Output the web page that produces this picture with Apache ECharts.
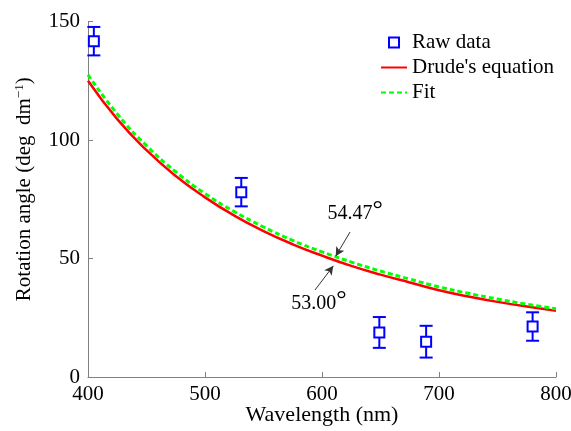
<!DOCTYPE html>
<html><head><meta charset="utf-8">
<script src="https://cdn.jsdelivr.net/npm/echarts@6/dist/echarts.min.js"></script>
<style>html,body{margin:0;padding:0;background:#fff}#c{width:571px;height:431px}</style>
</head><body><div id="c"></div>
<script>
// Data
const wavelengths = [400,425,450,475,500,525,550,575,600,625,650,675,700,725,750,775,800];
const drude = [125.0,108.8,95.7,84.8,75.8,68.1,61.6,56.0,51.2,46.9,43.2,39.9,36.6,34.0,31.7,29.7,28.0];
const fit   = [127.5,111.0,97.6,86.6,77.4,69.8,63.3,57.6,52.8,48.5,44.7,41.3,38.0,35.3,32.9,30.7,28.8];
const rawX   = [405,531,649,689,780];
const rawY   = [141.7,78.0,18.8,14.9,21.3];
const rawErr = [6.0,6.0,6.5,6.7,6.0];
const xTicks = [400,500,600,700,800];
const yTicks = [0,50,100,150];
const annot = [
  {value:'54.47', from:[624,61.2], to:[611.7,51.0]},
  {value:'53.00', from:[594,36.7], to:[609.7,46.9]}
];

const FONT = 'Liberation Serif';
const chart = echarts.init(document.getElementById('c'), null, {renderer:'canvas'});

const lineData = (ys) => wavelengths.map((w,i)=>[w, ys[i]]);
const rawData = rawX.map((x,i)=>[x, rawY[i]]);
const errData = rawX.map((x,i)=>[x, rawY[i]-rawErr[i], rawY[i]+rawErr[i]]);

const option = {
  animation:false,
  backgroundColor:'#fff',
  textStyle:{fontFamily:FONT, color:'#000'},
  grid:{left:88, right:15, top:21.5, bottom:54, containLabel:false, outerBoundsMode:'none'},
  legend:{
    orient:'vertical', left:375, top:27, itemWidth:26, itemHeight:10, itemGap:4,
    textStyle:{fontFamily:FONT, fontSize:21, color:'#000'},
    data:[
      {name:'Raw data', icon:'path://M0,0h10v10h-10z'},
      {name:"Drude's equation", itemStyle:{opacity:0}},
      {name:'Fit', itemStyle:{opacity:0}}
    ]
  },
  xAxis:{
    type:'value', min:400, max:800, interval:100,
    name:'Wavelength (nm)', nameLocation:'middle', nameGap:27, nameMoveOverlap:false,
    nameTextStyle:{fontFamily:FONT, fontSize:22, color:'#000', verticalAlign:'top'},
    axisLine:{show:true, lineStyle:{color:'#808080', width:1}},
    axisTick:{show:true, inside:true, length:5, lineStyle:{color:'#808080'}},
    axisLabel:{fontFamily:FONT, fontSize:21, color:'#000', margin:7, customValues:xTicks},
    splitLine:{show:false}
  },
  yAxis:{
    type:'value', min:0, max:150, interval:50,
    name:'{a|Rotation angle (deg  dm}{s|−1}{a|)}', nameLocation:'middle', nameGap:52, nameRotate:90, nameMoveOverlap:false,
    nameTextStyle:{fontFamily:FONT, fontSize:21, color:'#000', padding:[0,0,0,20],
      rich:{a:{fontFamily:FONT, fontSize:21, color:'#000'}, s:{fontFamily:FONT, fontSize:13, color:'#000', padding:[0,0,10,0]}}},
    axisLine:{show:true, lineStyle:{color:'#808080', width:1}},
    axisTick:{show:true, inside:true, length:5, lineStyle:{color:'#808080'}},
    axisLabel:{fontFamily:FONT, fontSize:21, color:'#000', margin:8, customValues:yTicks},
    splitLine:{show:false}
  },
  series:[
    {
      name:"Drude's equation", type:'line', data:lineData(drude), smooth:true, showSymbol:false, symbol:'circle',
      lineStyle:{color:'#ff0000', width:2.5}, itemStyle:{color:'#ff0000'}, z:3,
      markLine:{
        silent:true, symbol:['none','arrow'], symbolSize:[7,9],
        lineStyle:{color:'#333', width:1, type:'solid'}, label:{show:false},
        data: annot.map(a=>[{coord:a.from},{coord:a.to}])
      }
    },
    {
      name:'Fit', type:'line', data:lineData(fit), smooth:true, showSymbol:false, symbol:'circle',
      lineStyle:{color:'#00ff00', width:3, type:[5,3]}, itemStyle:{color:'#00ff00'}, z:4
    },
    {
      name:'Raw data', type:'scatter', data:rawData, symbol:'rect', symbolSize:10,
      itemStyle:{color:'#ffffff', borderColor:'#0000ff', borderWidth:2, opacity:1}, z:6
    },
    {
      name:'Raw data', type:'custom', data:errData, z:5,
      renderItem:function(params, api){
        const x = api.value(0), lo = api.value(1), hi = api.value(2);
        const pt = api.coord([x, hi]), pb = api.coord([x, lo]);
        const w = 6.5;
        const st = {stroke:'#0000ff', lineWidth:2};
        return {type:'group', children:[
          {type:'line', shape:{x1:pt[0], y1:pt[1], x2:pb[0], y2:pb[1]}, style:st},
          {type:'line', shape:{x1:pt[0]-w, y1:pt[1], x2:pt[0]+w, y2:pt[1]}, style:st},
          {type:'line', shape:{x1:pb[0]-w, y1:pb[1], x2:pb[0]+w, y2:pb[1]}, style:st}
        ]};
      }
    }
  ]
};
chart.setOption(option);

// annotation labels placed relative to arrow starts via the axis scales
const p1 = chart.convertToPixel({gridIndex:0}, annot[0].from);
const p2 = chart.convertToPixel({gridIndex:0}, annot[1].from);
const rich = {n:{fontFamily:FONT, fontSize:20, fill:'#000'}, d:{fontFamily:FONT, fontSize:26, fill:'#000', padding:[0,0,8,0]}};
chart.setOption({graphic:[
  {type:'text', x:p1[0]+5, y:p1[1]-1, style:{text:'{n|'+annot[0].value+'}{d|°}', rich:rich, fontFamily:FONT, textAlign:'center', textVerticalAlign:'bottom'}},
  {type:'text', x:p2[0]+4, y:p2[1]-3, style:{text:'{n|'+annot[1].value+'}{d|°}', rich:rich, fontFamily:FONT, textAlign:'center', textVerticalAlign:'top'}}
]});
</script></body></html>
